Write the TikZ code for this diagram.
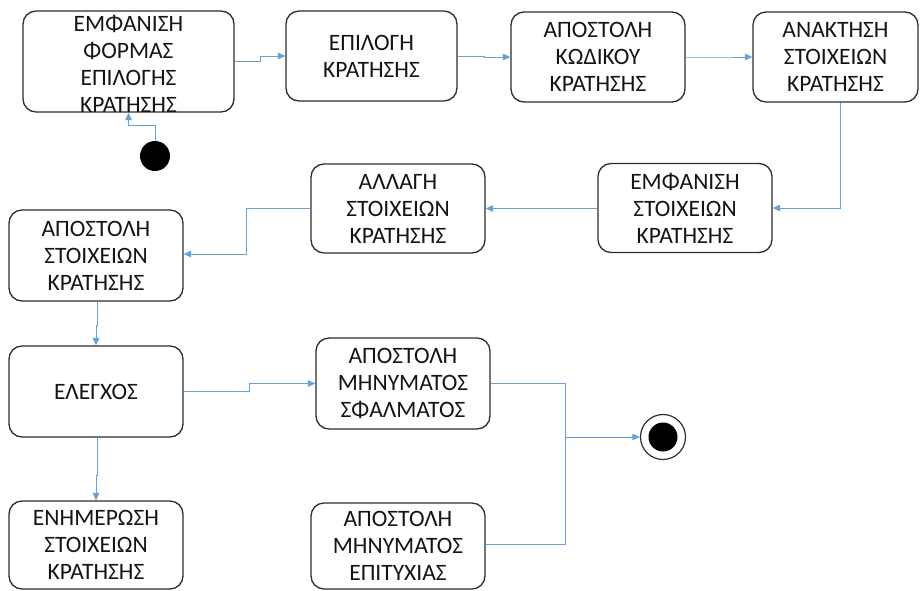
\documentclass[tikz,border=0pt]{standalone}
\usepackage{fontspec}
\setmainfont{Carlito}
\usetikzlibrary{arrows.meta}
\definecolor{flow}{RGB}{100,162,218}
\definecolor{edge}{RGB}{45,45,45}
\begin{document}
\begin{tikzpicture}[x=1pt,y=-1pt,
  state/.style={draw=edge, line width=1.3pt, rounded corners=13pt, inner sep=0pt},
  txt/.style={align=center, inner sep=0pt, text=black!92, font=\fontsize{23.5}{27}\selectfont},
  conn/.style={draw=flow, line width=1pt, -{Triangle[length=7.5pt,width=6.5pt]}},
  link/.style={draw=flow, line width=1pt}]
\useasboundingbox (0,0) rectangle (920,590);

% activity states
\node[state, minimum width=211pt, minimum height=101pt,
  label={[txt, yshift=-2.5pt]center:ΕΜΦΑΝΙΣΗ\\ΦΟΡΜΑΣ\\ΕΠΙΛΟΓΗΣ\\ΚΡΑΤΗΣΗΣ}] (b1) at (128.5,61.5) {};
\node[state, minimum width=171pt, minimum height=90pt,
  label={[txt]center:ΕΠΙΛΟΓΗ\\ΚΡΑΤΗΣΗΣ}] (b2) at (371.5,56) {};
\node[state, minimum width=174pt, minimum height=90pt,
  label={[txt]center:ΑΠΟΣΤΟΛΗ\\ΚΩΔΙΚΟΥ\\ΚΡΑΤΗΣΗΣ}] (b3) at (598,57) {};
\node[state, minimum width=165pt, minimum height=90pt,
  label={[txt]center:ΑΝΑΚΤΗΣΗ\\ΣΤΟΙΧΕΙΩΝ\\ΚΡΑΤΗΣΗΣ}] (b4) at (835.5,57) {};
\node[state, minimum width=174pt, minimum height=89pt,
  label={[txt]center:ΕΜΦΑΝΙΣΗ\\ΣΤΟΙΧΕΙΩΝ\\ΚΡΑΤΗΣΗΣ}] (b5) at (685,208) {};
\node[state, minimum width=174pt, minimum height=89pt,
  label={[txt]center:ΑΛΛΑΓΗ\\ΣΤΟΙΧΕΙΩΝ\\ΚΡΑΤΗΣΗΣ}] (b6) at (398,208.5) {};
\node[state, minimum width=174pt, minimum height=91pt,
  label={[txt]center:ΑΠΟΣΤΟΛΗ\\ΣΤΟΙΧΕΙΩΝ\\ΚΡΑΤΗΣΗΣ}] (b7) at (96,255.5) {};
\node[state, minimum width=174pt, minimum height=91pt,
  label={[txt]center:ΕΛΕΓΧΟΣ}] (b8) at (96,391.5) {};
\node[state, minimum width=174pt, minimum height=91pt,
  label={[txt]center:ΑΠΟΣΤΟΛΗ\\ΜΗΝΥΜΑΤΟΣ\\ΣΦΑΛΜΑΤΟΣ}] (b9) at (403,383.5) {};
\node[state, minimum width=174pt, minimum height=88pt,
  label={[txt]center:ΕΝΗΜΕΡΩΣΗ\\ΣΤΟΙΧΕΙΩΝ\\ΚΡΑΤΗΣΗΣ}] (b10) at (96,545) {};
\node[state, minimum width=174pt, minimum height=86pt,
  label={[txt]center:ΑΠΟΣΤΟΛΗ\\ΜΗΝΥΜΑΤΟΣ\\ΕΠΙΤΥΧΙΑΣ}] (b11) at (398,546) {};

% initial and final states
\node[circle, fill=black, minimum size=30pt, inner sep=0pt] (init) at (155,156) {};
\node[circle, draw=edge, line width=1.2pt, fill=white, minimum size=45pt, inner sep=0pt] (fin) at (663,437) {};
\node[circle, fill=black, minimum size=29pt, inner sep=0pt] (fincore) at (fin) {};

\coordinate (join) at (565,437);

% transitions
\draw[conn] (init.north) -- ++(0,-15) -| (b1.south);
\draw[conn] (b1.east) -- ++(26,0) |- (b2.west);
\draw[conn] (b2.east) -- ++(27,0) |- (b3.west);
\draw[conn] (b3.east) -- ++(35,0) |- (b4.west);
\draw[conn] ([xshift=4.5pt]b4.south) |- (b5.east);
\draw[conn] (b5.west) -- ++(-58,0) |- (b6.east);
\draw[conn] (b6.west) -- ++(-64,0) |- ([yshift=1.5pt]b7.east);
\draw[conn] ([xshift=1pt]b7.south) -- ++(0,24) -| (b8.north);
\draw[conn] (b8.east) -- ++(66,0) |- (b9.west);
\draw[conn] ([xshift=1pt]b8.south) -- ++(0,38) -| (b10.north);
\draw[conn] (b9.east) -| (join) -- (fin.west);
\draw[link] ([yshift=2pt]b11.east) -| (join);
\end{tikzpicture}
\end{document}
